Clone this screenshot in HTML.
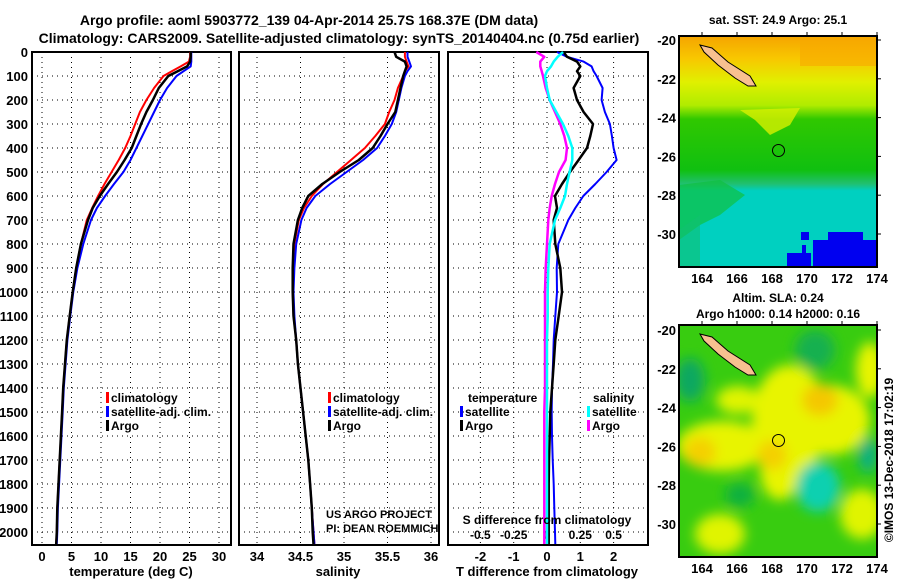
<!DOCTYPE html>
<html><head><meta charset="utf-8"><style>
body{margin:0;background:#fff}
svg{display:block}
text{font-family:"Liberation Sans",sans-serif;font-weight:bold;fill:#000}
</style></head><body>
<svg id="c" width="900" height="580" viewBox="0 0 900 580">
<defs>
<linearGradient id="sstg" x1="0" y1="0" x2="0" y2="1">
<stop offset="0" stop-color="#f5a400"/><stop offset="0.1" stop-color="#f8c800"/><stop offset="0.2" stop-color="#e0f000"/><stop offset="0.3" stop-color="#b0ec00"/><stop offset="0.36" stop-color="#30c800"/><stop offset="0.58" stop-color="#10c010"/><stop offset="0.64" stop-color="#20c070"/><stop offset="0.67" stop-color="#00d0c0"/><stop offset="1" stop-color="#00d0c0"/>
</linearGradient>
<filter id="bl"><feGaussianBlur stdDeviation="6"/></filter>
<clipPath id="m1c"><rect x="679" y="36" width="198" height="231"/></clipPath>
<clipPath id="m2c"><rect x="679" y="325" width="198" height="232"/></clipPath>
</defs>
<text x="309" y="25" font-size="14" text-anchor="middle">Argo profile: aoml 5903772_139 04-Apr-2014 25.7S 168.37E (DM data)</text>
<text x="339" y="43" font-size="14" text-anchor="middle">Climatology: CARS2009. Satellite-adjusted climatology: synTS_20140404.nc (0.75d earlier)</text>
<g id="g"></g>
</svg>
<script>
const depths=[0,20,40,60,80,100,150,200,250,300,350,400,450,500,550,600,650,700,800,900,1000,1100,1200,1300,1400,1500,1600,1700,1800,1900,2000,2050];
const tempClim=[25.1,25.1,24.9,23.5,22,20.6,19,17.7,16.6,15.8,15,14.1,13,11.8,10.6,9.5,8.5,7.6,6.6,5.8,5.2,4.7,4.2,3.9,3.6,3.4,3.2,3.0,2.8,2.6,2.5,2.4];
const tempSat=[25.3,25.3,25.3,25.2,24,22.8,21.2,20,19,18,17,16,15,13.8,12.2,10.7,9.3,8.3,7,6,5.3,4.8,4.3,4.0,3.7,3.5,3.3,3.1,2.9,2.7,2.6,2.5];
const tempArgo=[25.2,25.2,25.1,24.6,23,21.4,19.8,18.8,17.7,16.8,16,15.2,14,12.7,11.2,9.8,8.6,7.8,6.6,5.8,5.2,4.7,4.2,3.9,3.6,3.4,3.2,3.0,2.8,2.6,2.5,2.4];
const salClim=[35.7,35.7,35.72,35.74,35.7,35.68,35.62,35.58,35.52,35.47,35.36,35.24,35.08,34.92,34.76,34.63,34.54,34.48,34.43,34.41,34.41,34.42,34.45,34.47,34.5,34.53,34.56,34.59,34.61,34.63,34.65,34.66];
const salSat=[35.73,35.73,35.75,35.77,35.73,35.7,35.66,35.63,35.6,35.55,35.47,35.38,35.22,35.03,34.84,34.67,34.57,34.51,34.45,34.43,34.42,34.43,34.45,34.47,34.5,34.53,34.56,34.59,34.61,34.63,34.65,34.66];
const salArgo=[35.58,35.6,35.7,35.72,35.7,35.68,35.65,35.62,35.59,35.5,35.42,35.33,35.17,34.95,34.75,34.59,34.52,34.47,34.42,34.41,34.41,34.42,34.45,34.47,34.5,34.53,34.56,34.59,34.61,34.63,34.64,34.65];
const tDiffSat=[0.3,0.6,1.1,1.34,1.4,1.49,1.67,1.64,1.74,1.89,1.95,2.0,2.09,1.79,1.45,1.09,0.85,0.64,0.34,0.29,0.3,0.25,0.2,0.18,0.15,0.14,0.15,0.17,0.2,0.22,0.24,0.25];
const tDiffArgo=[0.5,0.6,0.9,1.0,0.9,1.0,0.8,0.9,1.1,1.38,1.3,1.2,0.95,0.69,0.45,0.24,0.3,0.2,0.25,0.4,0.45,0.35,0.25,0.2,0.15,0.1,0.08,0.06,0.05,0.05,0.05,0.05];
const sDiffSat=[0.12,0.08,0.05,0.03,0.0,-0.015,0.0,0.02,0.07,0.12,0.16,0.19,0.19,0.17,0.15,0.135,0.1,0.06,0.02,0.01,0.005,0.005,0,0,0,0,0,0,0,0,0,0];
const sDiffArgo=[-0.08,-0.02,-0.05,-0.05,-0.04,-0.03,-0.01,0.02,0.06,0.1,0.13,0.15,0.14,0.09,0.06,0.035,0.02,0.01,0,-0.01,-0.015,-0.015,-0.015,-0.015,-0.015,-0.02,-0.02,-0.02,-0.02,-0.02,-0.02,-0.02];
const depthTicks=[0,100,200,300,400,500,600,700,800,900,1000,1100,1200,1300,1400,1500,1600,1700,1800,1900,2000];
const tempTicks=[0,5,10,15,20,25,30];
const salTicks=[34,34.5,35,35.5,36];
const tDiffTicks=[-2,-1,0,1,2];
const sDiffTicks=[-0.5,-0.25,0,0.25,0.5];
const latTicks=[-20,-22,-24,-26,-28,-30];
const lonTicks=[164,166,168,170,172,174];

const NS='http://www.w3.org/2000/svg';
const G=document.getElementById('g');
function mk(tag,at,parent){const e=document.createElementNS(NS,tag);for(const k in at)e.setAttribute(k,at[k]);(parent||G).appendChild(e);return e;}
const yD=d=>52+d*0.24;
const xT=v=>42+v*5.9;
const xS=v=>257+(v-34)*87;
const xTD=v=>547+v*33.3;
const xSD=v=>547+v*133.2;
const panels=[[32,231],[239,439],[448,648]];
const B=545,TOP=52;

panels.forEach((p,i)=>{
  depthTicks.forEach(d=>{if(d>0){const l=mk('line',{x1:p[0],x2:p[1],y1:yD(d),y2:yD(d),stroke:'#000','stroke-width':1,'stroke-dasharray':'1,4'});

}});
  const r=mk('rect',{x:p[0],y:TOP,width:p[1]-p[0],height:B-TOP,fill:'none',stroke:'#000','stroke-width':2});
  
  
});
function vgrid(ticks,fx,lblY,fmt,name){ticks.forEach(v=>{const x=fx(v);
  const l=mk('line',{x1:x,x2:x,y1:TOP,y2:B,stroke:'#000','stroke-width':1,'stroke-dasharray':'1,4'});
  
  
  if(lblY){const t=mk('text',{x:x,y:lblY,'font-size':13,'text-anchor':'middle'});t.textContent=fmt?fmt(v):v;
  
  }
});}
vgrid(tempTicks,xT,561,null,'temperature');
vgrid(salTicks,xS,561,null,'salinity');
vgrid(tDiffTicks,xTD,561,null,'t-diff');
sDiffTicks.forEach(v=>{const t=mk('text',{x:xSD(v),y:539,'font-size':12,'text-anchor':'middle'});t.textContent=v;

});
depthTicks.forEach(d=>{const t=mk('text',{x:28,y:yD(d)+5,'font-size':13,'text-anchor':'end'});t.textContent=d;

});

function series(vals,fx,color,w,name){
  const pts=vals.map((v,i)=>fx(v).toFixed(1)+','+yD(depths[i]).toFixed(1)).join(' ');
  const l=mk('polyline',{points:pts,fill:'none',stroke:color,'stroke-width':w,'stroke-linejoin':'round'});
  
  
}
series(tempClim,xT,'#f00',2,'temp-climatology-line');
series(tempSat,xT,'#00f',2,'temp-satellite-line');
series(tempArgo,xT,'#000',2.5,'temp-argo-line');
series(salClim,xS,'#f00',2,'sal-climatology-line');
series(salSat,xS,'#00f',2,'sal-satellite-line');
series(salArgo,xS,'#000',2.5,'sal-argo-line');
series(tDiffSat,xTD,'#00f',2,'tdiff-satellite-line');
series(tDiffArgo,xTD,'#000',2.5,'tdiff-argo-line');
series(sDiffArgo,xSD,'#f0f',2.5,'sdiff-argo-line');
series(sDiffSat,xSD,'#0ff',2.5,'sdiff-satellite-line');

function txt(s,x,y,fs,anchor,name,extra){const t=mk('text',Object.assign({x:x,y:y,'font-size':fs,'text-anchor':anchor||'start'},extra||{}));t.textContent=s;

return t;}
function legend(x,y,color,label,name){
  const r=mk('rect',{x:x,y:y-10,width:3,height:11,fill:color});
  
  
  const t=txt(label,x+5,y,12,'start',name);
  t.setAttribute('stroke','#fff');t.setAttribute('stroke-width','3');t.setAttribute('paint-order','stroke');
}
[[106,'#f00','climatology'],[106,'#00f','satellite-adj. clim.'],[106,'#000','Argo']].forEach((e,i)=>legend(e[0],402+i*14,e[1],e[2],'legend-temp-'+i));
[[328,'#f00','climatology'],[328,'#00f','satellite-adj. clim.'],[328,'#000','Argo']].forEach((e,i)=>legend(e[0],402+i*14,e[1],e[2],'legend-sal-'+i));
txt('temperature',468,402,12,'start','legend-diff-temperature-header');
legend(460,416,'#00f','satellite','legend-diff-t-satellite');
legend(460,430,'#000','Argo','legend-diff-t-argo');
txt('salinity',593,402,12,'start','legend-diff-salinity-header');
legend(587,416,'#0ff','satellite','legend-diff-s-satellite');
legend(587,430,'#f0f','Argo','legend-diff-s-argo');
txt('US ARGO PROJECT',326,518,11,'start','project-credit',{'font-weight':'normal'});
txt('PI: DEAN ROEMMICH',326,532,11,'start','pi-credit',{'font-weight':'normal'});
txt('S difference from climatology',547,524,12,'middle','s-diff-axis-title');
txt('temperature (deg C)',131,576,13,'middle','temperature-axis-title');
txt('salinity',338,576,13,'middle','salinity-axis-title');
txt('T difference from climatology',547,576,13,'middle','t-diff-axis-title');

const xL=l=>702+(l-164)*17.5;
function mapAxes(top,latTop,bottomY,name){
  const yLat=la=>latTop+(-20-la)*19.4;
  latTicks.forEach(la=>{txt(String(la),676,yLat(la)+5,13,'end',name+'-lat-label');
    const l=mk('line',{x1:877,x2:881,y1:yLat(la),y2:yLat(la),stroke:'#000'});});
  lonTicks.forEach(lo=>{txt(String(lo),xL(lo),bottomY+16,13,'middle',name+'-lon-label');
    const l=mk('line',{x1:xL(lo),x2:xL(lo),y1:top-4,y2:top,stroke:'#000'});});
  return yLat;
}
const m1=mk('g',{'clip-path':'url(#m1c)'});
mk('rect',{x:679,y:36,width:198,height:231,fill:'url(#sstg)'},m1);
mk('polygon',{points:'740,110 800,108 790,125 770,135 755,120',fill:'#d8f000',opacity:0.8},m1);
mk('rect',{x:800,y:36,width:77,height:30,fill:'#f8a800',opacity:0.6},m1);
mk('polygon',{points:'679,185 720,180 745,195 720,215 700,225 679,240',fill:'#10c040',opacity:0.7},m1);
mk('polygon',{points:'679,230 700,215 700,267 679,267',fill:'#10c070',opacity:0.6},m1);
mk('rect',{x:787,y:253,width:24,height:14,fill:'#0000f0'},m1);
mk('rect',{x:813,y:240,width:64,height:27,fill:'#0000f0'},m1);
mk('rect',{x:828,y:232,width:35,height:8,fill:'#0000f0'},m1);
mk('rect',{x:801,y:232,width:8,height:8,fill:'#0000f0'},m1);
mk('rect',{x:802,y:245,width:4,height:8,fill:'#0000f0'},m1);
mk('polygon',{points:'700,45 712,48 728,62 750,76 756,86 748,86 735,78 718,65 704,52',fill:'#f8c090',stroke:'#000','stroke-width':1},m1);
mk('circle',{cx:778.5,cy:150.5,r:6,fill:'none',stroke:'#000','stroke-width':1},m1);
const f1=mk('rect',{x:679,y:36,width:198,height:231,fill:'none',stroke:'#000','stroke-width':2});
mapAxes(36,40,267,'sst-map');
txt('sat. SST: 24.9 Argo: 25.1',778,24,12,'middle','sst-map-title');
const m2=mk('g',{'clip-path':'url(#m2c)'});
mk('rect',{x:679,y:325,width:198,height:232,fill:'#38cc10'},m2);
const bl=mk('g',{filter:'url(#bl)'},m2);
[[790,420,38,55,'#e8f400'],[722,446,45,25,'#e8f400'],[830,420,40,35,'#e8f400'],[738,400,22,14,'#e0f400'],[870,370,14,28,'#e8f400'],[720,534,25,20,'#e0f400'],[862,514,22,25,'#e0f400'],[780,470,20,30,'#e8f400'],[700,452,16,15,'#f4d000'],[820,400,18,16,'#f4c800'],[772,455,15,15,'#f4d000'],[815,350,20,20,'#18b050'],[818,487,22,25,'#10d0b0'],[868,455,10,18,'#10b080'],[690,380,15,22,'#10a860'],[740,495,15,12,'#10b040']].forEach(b=>{
mk('ellipse',{cx:b[0],cy:b[1],rx:b[2],ry:b[3],fill:b[4]},bl);});
mk('polygon',{points:'700,334 712,337 728,351 750,365 756,375 748,375 735,367 718,354 704,341',fill:'#f8c090',stroke:'#000','stroke-width':1},m2);
mk('circle',{cx:778.5,cy:440.5,r:6,fill:'none',stroke:'#000','stroke-width':1},m2);
const f2=mk('rect',{x:679,y:325,width:198,height:232,fill:'none',stroke:'#000','stroke-width':2});
mapAxes(325,330,557,'sla-map');
txt('Altim. SLA: 0.24',778,302,12,'middle','sla-map-title');
txt('Argo h1000: 0.14 h2000: 0.16',778,318,12,'middle','sla-map-subtitle');
txt('©IMOS 13-Dec-2018 17:02:19',893,460,12,'middle','copyright-stamp',{transform:'rotate(-90 893 460)','font-weight':'normal'});
</script>
</body></html>
